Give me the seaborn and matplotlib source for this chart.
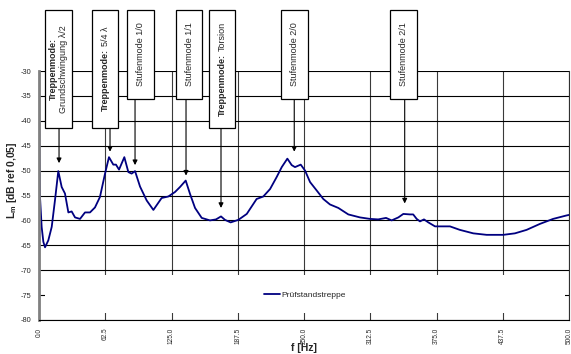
import numpy as np
import matplotlib
matplotlib.use("Agg")
import matplotlib.pyplot as plt
from matplotlib.patches import Rectangle
import seaborn as sns

# ---- data ----
freq = [0, 0.5, 1.0, 2.5, 4.1, 5.7, 8.8, 12, 15.1, 18.2, 21.4, 24.5, 27.7, 30.8, 34,
        38.7, 43.4, 48.1, 52.8, 57.5, 62.3, 66, 70.1, 72.6, 75.5, 80.5, 84.3, 87.4,
        90.6, 95.3, 101.6, 107.9, 115.7, 122, 128.3, 133, 138.4, 142.5, 147.2, 153.5,
        161.3, 167, 171.7, 175.5, 180.8, 188, 196, 205.3, 211.6, 218, 224.2, 229,
        234.3, 238.4, 241.5, 246.9, 251, 255.7, 262, 268.2, 274.5, 282.4, 291.8,
        302.8, 312.3, 320, 327.4, 332.7, 339, 343.7, 350, 353, 356.3, 359.4, 363.2,
        367.3, 373.6, 381.4, 387.7, 397, 409.7, 422.3, 438, 449, 460, 472.6, 485,
        497.8, 500]
level = [-35, -47, -55.5, -61.3, -64.3, -65.4, -64, -61.3, -55.9, -50.1, -53.3, -54.6,
         -58.4, -58.2, -59.4, -59.7, -58.4, -58.4, -57.4, -55.3, -50.6, -47.3, -48.8,
         -48.8, -49.8, -47.3, -50.3, -50.6, -50.1, -53.2, -56, -57.9, -55.5, -55.2,
         -54.3, -53.3, -52, -54.7, -57.5, -59.5, -60, -59.8, -59.2, -59.9, -60.4,
         -59.9, -58.7, -55.7, -55.2, -53.7, -51.3, -49.3, -47.6, -48.9, -49.3, -48.8,
         -50, -52.3, -54, -55.7, -56.8, -57.5, -58.8, -59.4, -59.7, -59.8, -59.5, -60,
         -59.4, -58.7, -58.8, -58.8, -59.7, -60.2, -59.8, -60.4, -61.2, -61.2, -61.2,
         -61.9, -62.6, -62.9, -62.9, -62.6, -61.9, -60.7, -59.7, -59, -58.9]
series_name = "Prüfstandstreppe"

x_ticks = [0.0, 62.5, 125.0, 187.5, 250.0, 312.5, 375.0, 437.5, 500.0]
y_ticks = [-80, -75, -70, -65, -60, -55, -50, -45, -40, -35, -30]

# mode annotations: bold prefix, normal text, arrow tip (freq, level)
mode_bold = ["Treppenmode:", "Treppenmode:", "", "", "Treppenmode:", "", ""]
mode_text = ["Grundschwingung λ/2", "5/4 λ", "Stufenmode 1/0", "Stufenmode 1/1",
             "Torsion", "Stufenmode 2/0", "Stufenmode 2/1"]
mode_two_lines = [True, False, False, False, False, False, False]
mode_freq = [18.9, 67.0, 90.6, 138.7, 171.7, 240.8, 345.0]
mode_tip = [-48.5, -46.2, -48.9, -51.0, -57.5, -46.2, -56.6]

# box layout in figure pixels: (left, right, bottom)
box_px = [(45, 72, 128), (92, 118, 128), (127, 154, 99), (176, 202, 99),
          (209, 235, 128), (281, 308, 99), (390, 417, 99)]
BOX_TOP = 10

W, H = 571, 354

sns.set_style("white")
plt.rcParams["font.family"] = ["Liberation Sans", "DejaVu Sans"]
plt.rcParams["mathtext.fontset"] = "custom"
plt.rcParams["mathtext.rm"] = "Liberation Sans"
plt.rcParams["mathtext.bf"] = "Liberation Sans:bold"
plt.rcParams["axes.unicode_minus"] = False

fig = plt.figure(figsize=(W / 100, H / 100), dpi=100)
ax = fig.add_axes([39 / W, 34 / H, 530 / W, 249 / H])

sns.lineplot(x=freq, y=level, ax=ax, color="#000080", lw=1.3, label=series_name, zorder=2)

ax.set_xlim(0, 500)
ax.set_ylim(-80, -30)
ax.set_xticks(x_ticks)
ax.set_xticklabels([f"{t:.1f}" for t in x_ticks], rotation=90, fontsize=4.7)
ax.set_yticks(y_ticks)
ax.set_yticklabels([f"{t}" for t in y_ticks], fontsize=5.3)
ax.tick_params(axis="both", direction="inout", length=8, width=0.8, color="black", pad=1.5)

ax.set_axisbelow(True)
ax.grid(True, axis="y", color="black", lw=0.8)
ax.grid(True, axis="x", color="#3a3a3a", lw=0.8)

ax.spines["top"].set_visible(False)
ax.spines["left"].set_color("#808080")
ax.spines["left"].set_linewidth(2)
ax.spines["right"].set_color("#303030")
ax.spines["right"].set_linewidth(0.8)
ax.spines["bottom"].set_color("black")
ax.spines["bottom"].set_linewidth(0.8)

# white legend area covering the lower part of the grid
ax.add_patch(Rectangle((6 / 530, 7 / 249), 520 / 530, 38 / 249, transform=ax.transAxes,
                       facecolor="white", edgecolor="none", zorder=1))
leg = ax.legend(loc="center", bbox_to_anchor=(0.502, 0.1), frameon=False, fontsize=6,
                handlelength=1.9, handletextpad=0.2)

ax.set_xlabel("")
ax.set_ylabel("")
fig.text(304 / W, 1 - 348 / H, "f [Hz]", ha="center", va="center", fontsize=7.5, fontweight="bold")
fig.text(12 / W, 1 - 180 / H, r"$\mathbf{L_m}$ [dB ref 0,05]", rotation=90, ha="center",
         va="center", fontsize=7.5, fontweight="bold")

renderer = fig.canvas.get_renderer()
FS = 6.5


def vtext(xp, yp, s, bold=False, va="center"):
    return fig.text(xp / W, 1 - yp / H, s, rotation=90, ha="center", va=va,
                    fontsize=FS, fontweight="bold" if bold else "normal", zorder=6)


# annotation boxes with arrows
for bold, txt, two, f, tip, (l, r, b) in zip(mode_bold, mode_text, mode_two_lines,
                                            mode_freq, mode_tip, box_px):
    fig.patches.append(Rectangle((l / W, 1 - b / H), (r - l) / W, (b - BOX_TOP) / H,
                                 transform=fig.transFigure, facecolor="white",
                                 edgecolor="black", lw=0.9, zorder=5))
    cx = (l + r) / 2
    cy = (BOX_TOP + b) / 2
    if not bold:
        vtext(cx, cy, txt)
    elif two:
        vtext(cx - 5.5, cy, bold, bold=True)
        vtext(cx + 5.5, cy, txt)
    else:
        t1 = vtext(cx, cy, bold, bold=True, va="bottom")
        t2 = vtext(cx, cy, txt, va="bottom")
        h1 = t1.get_window_extent(renderer).height
        h2 = t2.get_window_extent(renderer).height
        gap = 2.5
        start = cy + (h1 + h2 + gap) / 2
        t1.set_position((cx / W, 1 - start / H))
        t2.set_position((cx / W, 1 - (start - h1 - gap) / H))
    ax.annotate("", xy=(f, tip), xycoords="data",
                xytext=(f, 1 - b / H), textcoords=("data", "figure fraction"),
                arrowprops=dict(arrowstyle="-|>", color="black", lw=0.8,
                                mutation_scale=7, shrinkA=0, shrinkB=0),
                annotation_clip=False, zorder=4)

fig.savefig("out.png", dpi=100)
